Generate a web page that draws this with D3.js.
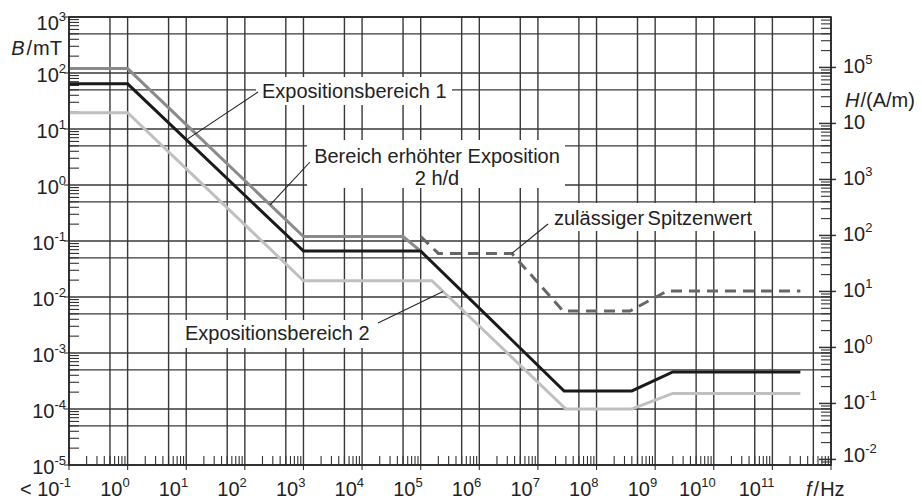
<!DOCTYPE html>
<html>
<head>
<meta charset="utf-8">
<script src="https://cdn.jsdelivr.net/npm/d3@7"></script>
<style>
  body { margin: 0; background: #fff; }
  svg { display: block; font-family: "Liberation Sans", Arial, sans-serif; }
</style>
</head>
<body>
<svg id="chart" width="922" height="501"></svg>
<script>
// frequency (Hz) and flux density B (mT)
const fBereich1 = [0.1, 1, 1e3, 1e5, 2.8e7, 4e8, 2e9, 3e11];
const bBereich1 = [64, 64, 0.066, 0.066, 2.1e-4, 2.1e-4, 4.6e-4, 4.6e-4];

const fErhoeht = [0.1, 1, 1e3, 5e4, 1e5];
const bErhoeht = [120, 120, 0.12, 0.12, 0.066];

const fBereich2 = [0.1, 1, 1e3, 1.55e5, 3e7, 4e8, 2e9, 3e11];
const bBereich2 = [19.5, 19.5, 0.0195, 0.0195, 1e-4, 1e-4, 1.9e-4, 1.9e-4];

const fSpitze = [1e5, 2e5, 3.6e6, 2.7e7, 3.7e8, 1.6e9, 3e11];
const bSpitze = [0.12, 0.06, 0.06, 0.0056, 0.0056, 0.0128, 0.0128];

// tick exponents
const fExp = d3.range(-1, 13);      // 10^-1 .. 10^12
const bExp = d3.range(-5, 4);       // 10^-5 .. 10^3
const hExp = d3.range(-2, 6);       // 10^-2 .. 10^5
const minorK = [2, 3, 4, 5, 6, 7, 8, 9];
const MU0 = 4 * Math.PI * 1e-4;     // mT per A/m

const svg = d3.select('#chart');
const plotL = 69, plotR = 831, plotT = 17, plotB = 465;

const x = d3.scaleLog().domain([1e-1, 1e12]).range([plotL, plotR]);
const y = d3.scaleLog().domain([1e-5, 1e3]).range([plotB, plotT]);
const yH = d3.scaleLog().domain([1e-5 / MU0, 1e3 / MU0]).range([plotB, plotT]);

// grid: decades and 5x lines
const vGrid = fExp.map(e => 10 ** e).concat(fExp.slice(0, -1).map(e => 5 * 10 ** e));
const hGrid = bExp.map(e => 10 ** e).concat(bExp.slice(0, -1).map(e => 5 * 10 ** e));

const grid = svg.append('g').attr('stroke', '#383838').attr('stroke-width', 1.4);
grid.selectAll('.v').data(vGrid).join('line').attr('class', 'v')
  .attr('x1', d => x(d)).attr('x2', d => x(d))
  .attr('y1', plotT).attr('y2', plotB);
grid.selectAll('.h').data(hGrid).join('line').attr('class', 'h')
  .attr('x1', plotL).attr('x2', plotR)
  .attr('y1', d => y(d)).attr('y2', d => y(d));

// label boxes hide the grid
const boxes = [
  [256, 77, 196, 28],
  [307, 140, 258, 48],
  [548, 203, 212, 28],
  [180, 320, 196, 28]
];
svg.append('g').selectAll('rect').data(boxes).join('rect')
  .attr('x', d => d[0]).attr('y', d => d[1])
  .attr('width', d => d[2]).attr('height', d => d[3])
  .attr('fill', '#fff');

// minor ticks
const ticks = svg.append('g').attr('stroke', '#333').attr('stroke-width', 1.1);
const fMinor = fExp.slice(0, -1).flatMap(e => minorK.map(k => k * 10 ** e));
ticks.selectAll('.fm').data(fMinor).join('line').attr('class', 'fm')
  .attr('x1', d => x(d)).attr('x2', d => x(d))
  .attr('y1', plotB).attr('y2', plotB - 9);
const bMinor = bExp.slice(0, -1).flatMap(e => minorK.map(k => k * 10 ** e));
ticks.selectAll('.bm').data(bMinor).join('line').attr('class', 'bm')
  .attr('x1', plotL).attr('x2', plotL + 10)
  .attr('y1', d => y(d)).attr('y2', d => y(d));
const hMinor = d3.range(-3, 6).flatMap(e => minorK.map(k => k * 10 ** e))
  .filter(h => h >= yH.domain()[0] && h <= yH.domain()[1]);
ticks.selectAll('.hm').data(hMinor).join('line').attr('class', 'hm')
  .attr('x1', plotR - 10).attr('x2', plotR)
  .attr('y1', d => yH(d)).attr('y2', d => yH(d));
ticks.selectAll('.hM').data(hExp).join('line').attr('class', 'hM')
  .attr('x1', plotR - 12).attr('x2', plotR + 5)
  .attr('y1', d => yH(10 ** d)).attr('y2', d => yH(10 ** d))
  .attr('stroke-width', 1.5);
ticks.selectAll('.bM').data(bExp).join('line').attr('class', 'bM')
  .attr('x1', plotL - 5).attr('x2', plotL)
  .attr('y1', d => y(10 ** d)).attr('y2', d => y(10 ** d));
ticks.selectAll('.fM').data(fExp).join('line').attr('class', 'fM')
  .attr('x1', d => x(10 ** d)).attr('x2', d => x(10 ** d))
  .attr('y1', plotB).attr('y2', plotB + 5);

// curves
const line = d3.line().x(d => x(d[0])).y(d => y(d[1]));
const curves = [
  { f: fBereich2, b: bBereich2, color: '#c0c0c0', dash: null },
  { f: fErhoeht, b: bErhoeht, color: '#8a8a8a', dash: null },
  { f: fSpitze, b: bSpitze, color: '#666', dash: '11 7' },
  { f: fBereich1, b: bBereich1, color: '#1a1a1a', dash: null }
];
svg.append('g').selectAll('path').data(curves).join('path')
  .attr('d', c => line(d3.zip(c.f, c.b)))
  .attr('fill', 'none')
  .attr('stroke', c => c.color)
  .attr('stroke-width', 3)
  .attr('stroke-dasharray', c => c.dash);

// frame
svg.append('rect')
  .attr('x', plotL).attr('y', plotT)
  .attr('width', plotR - plotL).attr('height', plotB - plotT)
  .attr('fill', 'none').attr('stroke', '#222').attr('stroke-width', 1.6);

// leader lines: [text x, text y, f, B on curve]
const leaders = [
  [258, 92, 10, 6.4],
  [310, 162, 270, 0.44],
  [548, 224, 3.6e6, 0.06],
  [378, 323, 2.4e5, 0.0125]
];
svg.append('g').selectAll('line').data(leaders).join('line')
  .attr('x1', d => d[0]).attr('y1', d => d[1])
  .attr('x2', d => x(d[2])).attr('y2', d => y(d[3]))
  .attr('stroke', '#222').attr('stroke-width', 1.1);

// annotations
const notes = svg.append('g').attr('font-size', 20).attr('fill', '#222');
notes.append('text').attr('x', 262).attr('y', 98).text('Expositionsbereich 1');
notes.append('text').attr('x', 437).attr('y', 163).attr('text-anchor', 'middle')
  .text('Bereich erhöhter Exposition');
notes.append('text').attr('x', 437).attr('y', 185).attr('text-anchor', 'middle').text('2 h/d');
notes.append('text').attr('x', 554).attr('y', 225).attr('word-spacing', -2)
  .text('zulässiger Spitzenwert');
notes.append('text').attr('x', 185).attr('y', 340).text('Expositionsbereich 2');

// power-of-ten label helper
function pow10(sel, exp, prefix) {
  sel.text(prefix || '10');
  if (exp !== null) sel.append('tspan').attr('dy', -9).attr('font-size', 13).text(exp);
}

const labels = svg.append('g').attr('font-size', 20).attr('fill', '#222');

labels.selectAll('.bl').data(bExp).join('text').attr('class', 'bl')
  .attr('x', 66)
  .attr('y', d => y(10 ** d) + (d === 3 ? 13 : 9))
  .attr('text-anchor', 'end')
  .each(function (d) { pow10(d3.select(this), d); });

labels.selectAll('.fl').data(fExp.slice(0, -1)).join('text').attr('class', 'fl')
  .attr('x', d => x(10 ** d) + 2)
  .attr('y', 496)
  .attr('text-anchor', 'end')
  .each(function (d) { pow10(d3.select(this), d, d === -1 ? '< 10' : '10'); });

// in the reference the exponent of 10^4 is hidden under the H title
labels.selectAll('.hl').data(hExp).join('text').attr('class', 'hl')
  .attr('x', 843)
  .attr('y', d => yH(10 ** d) + (d === -2 ? 3 : 6))
  .each(function (d) { pow10(d3.select(this), d === 4 ? null : d); });

// axis titles
const bTitle = labels.append('text').attr('x', 62).attr('y', 55).attr('text-anchor', 'end');
bTitle.append('tspan').attr('font-style', 'italic').text('B');
bTitle.append('tspan').attr('dx', 2).text('/');
bTitle.append('tspan').attr('dx', 1).text('mT');

const hTitle = labels.append('text').attr('x', 845).attr('y', 107);
hTitle.append('tspan').attr('font-style', 'italic').text('H');
hTitle.append('tspan').attr('dx', 1).text('/(A/m)');

const fTitle = labels.append('text').attr('x', 806).attr('y', 496);
fTitle.append('tspan').attr('font-style', 'italic').text('f');
fTitle.append('tspan').attr('dx', 2).text('/');
fTitle.append('tspan').attr('dx', 1).text('Hz');
</script>
</body>
</html>
